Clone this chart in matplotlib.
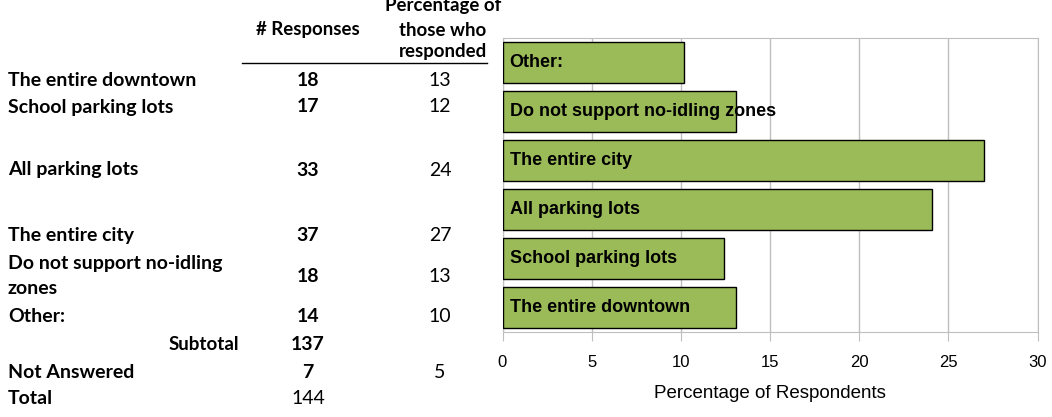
import matplotlib
matplotlib.use("Agg")
import matplotlib.pyplot as plt

# table data
row_labels = ["The entire downtown", "School parking lots", "All parking lots",
              "The entire city", "Do not support no-idling", "Other:"]
row_label_extra = {4: "zones"}
responses = [18, 17, 33, 37, 18, 14]
pct_responded = [13, 12, 24, 27, 13, 10]
subtotal = 137
not_answered = 7
not_answered_pct = 5
total = 144

# bar chart data (bottom to top)
bar_labels = ["The entire downtown", "School parking lots", "All parking lots",
              "The entire city", "Do not support no-idling zones", "Other:"]
bar_pct = [13.1, 12.4, 24.1, 27.0, 13.1, 10.2]

W, H = 1052, 417
fig = plt.figure(figsize=(W / 100, H / 100), dpi=100)

TFONT = "Lato"
AFONT = "Liberation Sans"


def ftext(x, y, s, **kw):
    kw.setdefault("va", "center")
    kw.setdefault("fontsize", 14)
    kw.setdefault("family", TFONT)
    fig.text(x / W, 1 - y / H, s, **kw)


# header
ftext(308, 30, "# Responses", ha="center", weight="bold", fontsize=13.4)
ftext(443, 6, "Percentage of", ha="center", weight="bold", fontsize=13.4)
ftext(443, 30, "those who", ha="center", weight="bold", fontsize=13.4)
ftext(443, 52, "responded", ha="center", weight="bold", fontsize=13.4)
fig.add_artist(plt.Line2D([242 / W, 487 / W], [1 - 63 / H, 1 - 63 / H],
                          color="black", lw=1))

# label row, number row
label_y = [80, 107, 170, 235, 263, 317]
value_y = [80, 107, 170, 235, 276, 317]
for i, (lab, r, p) in enumerate(zip(row_labels, responses, pct_responded)):
    ftext(8, label_y[i], lab, ha="left", weight="bold")
    if i in row_label_extra:
        ftext(8, label_y[i] + 25, row_label_extra[i], ha="left", weight="bold")
    ftext(308, value_y[i], str(r), ha="center", weight="bold")
    ftext(440, value_y[i], str(p), ha="center")

ftext(239, 344, "Subtotal", ha="right", weight="bold", fontsize=13.5)
ftext(308, 344, str(subtotal), ha="center", weight="bold")
ftext(8, 372, "Not Answered", ha="left", weight="bold")
ftext(308, 372, str(not_answered), ha="center", weight="bold")
ftext(440, 372, str(not_answered_pct), ha="center")
ftext(8, 398, "Total", ha="left", weight="bold")
ftext(308, 398, str(total), ha="center")

# bar chart
ax = fig.add_axes([502.5 / W, 1 - 332 / H, (1037.5 - 502.5) / W, (332 - 38) / H])
ypos = range(len(bar_pct))
ax.barh(ypos, bar_pct, height=0.82, color="#9BBB59", edgecolor="black",
        linewidth=1, zorder=3)
for y, lab in zip(ypos, bar_labels):
    ax.text(0.4, y, lab, va="center", ha="left", fontsize=13,
            weight="bold", family=AFONT, zorder=4)

ax.set_xlim(0, 30)
ax.set_ylim(-0.5, len(bar_pct) - 0.5)
ax.set_xticks(range(0, 31, 5))
ax.set_yticks([])
ax.grid(axis="x", color="#BFBFBF", lw=1, zorder=0)
for s in ax.spines.values():
    s.set_color("#BFBFBF")
ax.tick_params(axis="x", direction="out", length=6.5, color="#BFBFBF",
               labelsize=12, pad=10)
for t in ax.get_xticklabels():
    t.set_family(AFONT)
ax.set_xlabel("Percentage of Respondents", fontsize=13.5, family=AFONT,
              labelpad=11)

fig.savefig("out.png", dpi=100)
